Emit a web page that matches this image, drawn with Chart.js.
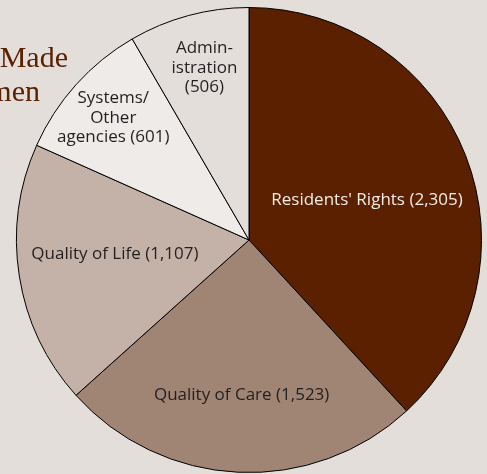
<!DOCTYPE html>
<html>
<head>
<meta charset="utf-8">
<script src="https://cdn.jsdelivr.net/npm/chart.js@4/dist/chart.umd.min.js"></script>
<style>
  html, body { margin: 0; padding: 0; background: #e4dedb; }
  #wrap { position: relative; width: 487px; height: 474px; }
</style>
</head>
<body>
<div id="wrap"><canvas id="pie-chart"></canvas></div>
<script>
// -- THE DATA --
const categories = ["Residents' Rights", "Quality of Care", "Quality of Life", "Systems/Other agencies", "Administration"];
const values = [2305, 1523, 1107, 601, 506];
// text written inside each slice, one entry per line
const sliceLabels = [
  ["Residents' Rights (2,305)"],
  ["Quality of Care (1,523)"],
  ["Quality of Life (1,107)"],
  ["Systems/", "Other", "agencies (601)"],
  ["Admin-", "istration", "(506)"]
];
const titleLines = ["Complaints Made", "to Ombudsmen"];

const colors = ["#5a2000", "#a08474", "#c4b2a8", "#efebe9", "#e4dedb"];
const labelColors = ["#f3ece6", "#231f20", "#231f20", "#231f20", "#231f20"];
const labelRadius = [0.535, 0.67, 0.58, 0.785, 0.765]; // fraction of the radius
const labelTurn = [0.05, 0, 0.05, 0, 0.01];             // small angle nudge, radians

// title sits behind the pie, so draw it first
const titleBehind = {
  id: 'titleBehind',
  beforeDatasetsDraw(chart) {
    const ctx = chart.ctx;
    ctx.save();
    ctx.fillStyle = "#5a2000";
    ctx.font = "30px 'Liberation Serif', serif";
    ctx.textAlign = "right";
    ctx.textBaseline = "alphabetic";
    ctx.fillText(titleLines[0], 68, 67);
    ctx.fillText(titleLines[1], 40, 101);
    ctx.restore();
  }
};

// slice labels
const sliceText = {
  id: 'sliceText',
  afterDatasetsDraw(chart) {
    const ctx = chart.ctx;
    const arcs = chart.getDatasetMeta(0).data;
    ctx.save();
    ctx.font = "17px 'Open Sans', sans-serif";
    ctx.textAlign = "center";
    ctx.textBaseline = "middle";
    arcs.forEach((arc, i) => {
      const mid = (arc.startAngle + arc.endAngle) / 2 + labelTurn[i];
      const r = arc.outerRadius * labelRadius[i];
      const cx = arc.x + Math.cos(mid) * r;
      const cy = arc.y + Math.sin(mid) * r;
      const lines = sliceLabels[i];
      const lh = 19.5;
      ctx.fillStyle = labelColors[i];
      lines.forEach((t, j) => {
        ctx.fillText(t, cx, cy + (j - (lines.length - 1) / 2) * lh);
      });
    });
    ctx.restore();
  }
};

// -- THE CHART --
const ctx = document.getElementById("pie-chart").getContext("2d");
new Chart(ctx, {
  type: "pie",
  data: {
    labels: categories,
    datasets: [{
      data: values,
      backgroundColor: colors,
      borderColor: "#000000",
      borderWidth: 1
    }]
  },
  options: {
    responsive: true,
    maintainAspectRatio: false,
    animation: false,
    layout: { padding: { top: 7, bottom: 1, left: 16, right: 5 } },
    plugins: {
      legend: { display: false },
      tooltip: { enabled: false }
    }
  },
  plugins: [titleBehind, sliceText]
});
</script>
</body>
</html>
